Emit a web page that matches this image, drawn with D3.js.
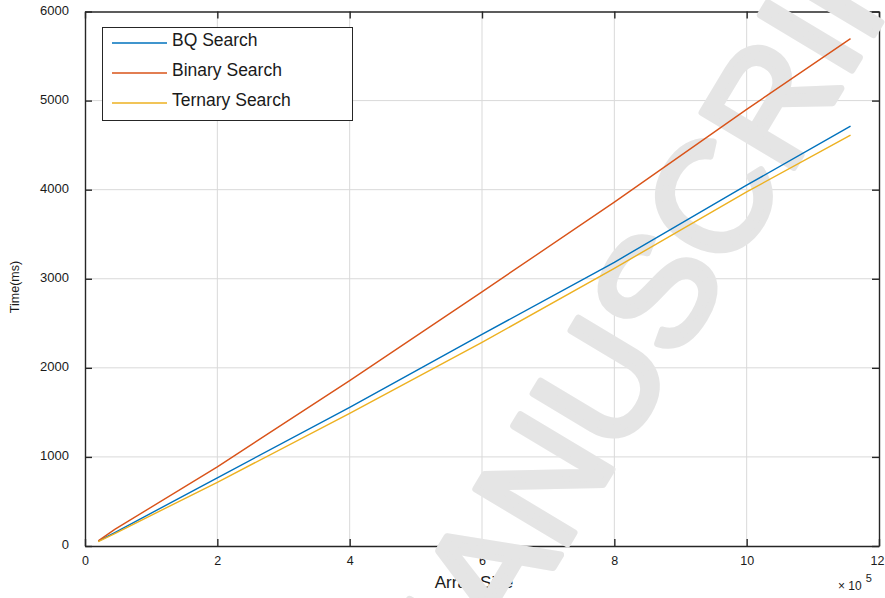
<!DOCTYPE html>
<html>
<head>
<meta charset="utf-8">
<script src="https://cdn.jsdelivr.net/npm/d3@7"></script>
<style>
  html, body { margin: 0; padding: 0; background: #fff; }
  svg { display: block; }
  text { font-family: "Liberation Sans", Arial, Helvetica, sans-serif; }
</style>
</head>
<body>
<svg id="chart" width="885" height="598"></svg>
<script>
// ---- data (array size in units of 10^5, time in ms) ----
const arraySizes   = [0.2, 0.45, 2, 4, 6, 8, 10, 11.57];
const bqSearch     = [55, 150, 766, 1557, 2375, 3185, 4050, 4713];
const binarySearch = [58, 186, 889, 1856, 2853, 3860, 4901, 5696];
const ternarySearch= [50, 140, 715, 1489, 2285, 3117, 3975, 4612];
const seriesNames  = ["BQ Search", "Binary Search", "Ternary Search"];
const seriesColors = ["#0072BD", "#D95319", "#EDB120"];
const xTicks = [0, 2, 4, 6, 8, 10, 12];
const yTicks = [0, 1000, 2000, 3000, 4000, 5000, 6000];
const xLabel = "Array Size";
const yLabel = "Time(ms)";
const watermark = "MANUSCRIPT";

const series = [bqSearch, binarySearch, ternarySearch].map((vals, i) => ({
  name: seriesNames[i], color: seriesColors[i],
  points: vals.map((v, j) => [arraySizes[j], v])
}));

const svg = d3.select("#chart");
const L = 85, R = 879, T = 11.5, B = 546;
const x = d3.scaleLinear().domain([0, 12]).range([L, R]);
const y = d3.scaleLinear().domain([0, 6000]).range([B, T]);

// grid
const grid = svg.append("g").attr("stroke", "#d9d9d9").attr("stroke-width", 1);
grid.selectAll("line.v").data(xTicks.slice(1, -1)).join("line")
  .attr("x1", d => x(d)).attr("x2", d => x(d)).attr("y1", T).attr("y2", B);
grid.selectAll("line.h").data(yTicks.slice(1, -1)).join("line")
  .attr("x1", L).attr("x2", R).attr("y1", d => y(d)).attr("y2", d => y(d));

// axes (box with inward ticks)
const axCol = "#262626";
const tickLen = 7;
const axB = svg.append("g").attr("transform", `translate(0,${B})`)
  .call(d3.axisBottom(x).tickValues(xTicks).tickSizeInner(-tickLen).tickSizeOuter(0).tickPadding(10).tickFormat(d3.format("d")));
const axT = svg.append("g").attr("transform", `translate(0,${T})`)
  .call(d3.axisTop(x).tickValues(xTicks).tickSizeInner(-tickLen).tickSizeOuter(0).tickFormat(""));
const axL = svg.append("g").attr("transform", `translate(${L},0)`)
  .call(d3.axisLeft(y).tickValues(yTicks).tickSizeInner(-tickLen).tickSizeOuter(0).tickPadding(16).tickFormat(d3.format("d")));
const axR = svg.append("g").attr("transform", `translate(${R},0)`)
  .call(d3.axisRight(y).tickValues(yTicks).tickSizeInner(-tickLen).tickSizeOuter(0).tickFormat(""));
[axB, axT, axL, axR].forEach(a => {
  a.select(".domain").attr("stroke", axCol).attr("stroke-width", 1.4);
  a.selectAll(".tick line").attr("stroke", axCol).attr("stroke-width", 1.4);
  a.selectAll("text").attr("fill", "#1a1a1a").style("font-size", "13px")
    .style("font-family", "'Liberation Sans', Arial, sans-serif");
});
axL.selectAll("text").attr("dy", "0.2em");
axB.selectAll("text").attr("dy", "0.75em").style("font-size", "12.5px");
axB.selectAll(".tick").filter(d => d === 12).select("text").attr("dx", "-2");

// axis labels
svg.append("text").attr("x", 474).attr("y", 588).attr("text-anchor", "middle")
  .attr("fill", "#1a1a1a").style("font-size", "17px").text(xLabel);
svg.append("text").attr("transform", "translate(19,287) rotate(-90)").attr("text-anchor", "middle")
  .attr("fill", "#1a1a1a").style("font-size", "12.5px").text(yLabel);
// exponent
const ex = svg.append("text").attr("x", 838).attr("y", 590).attr("fill", "#1a1a1a").style("font-size", "12px");
ex.append("tspan").text("\u00D7 10");
ex.append("tspan").attr("dx", 4).attr("dy", -8).style("font-size", "11px").text("5");

// watermark (above axes, below data lines)
svg.append("text").attr("transform", "translate(441,754) rotate(-59)")
  .attr("fill", "#e5e5e5").attr("stroke", "#e5e5e5").attr("stroke-width", 7).attr("stroke-linejoin", "round")
  .style("font-size", "155px").text(watermark);

// data lines
const line = d3.line().x(d => x(d[0])).y(d => y(d[1]));
svg.append("g").selectAll("path").data(series).join("path")
  .attr("d", d => line(d.points)).attr("fill", "none")
  .attr("stroke", d => d.color).attr("stroke-width", 1.4);

// legend
const lg = svg.append("g");
lg.append("rect").attr("x", 102.5).attr("y", 27.5).attr("width", 250).attr("height", 93)
  .attr("fill", "#fff").attr("stroke", "#262626").attr("stroke-width", 1);
const rows = lg.selectAll("g.row").data(series).join("g")
  .attr("transform", (d, i) => `translate(0,${43 + i * 30})`);
rows.append("line").attr("x1", 112).attr("x2", 167).attr("y1", 0).attr("y2", 0)
  .attr("stroke", d => d.color).attr("stroke-width", 1.4);
rows.append("text").attr("x", 172).attr("y", -3).attr("dy", "0.35em")
  .attr("fill", "#1a1a1a").style("font-size", "17.5px").text(d => d.name);
</script>
</body>
</html>
